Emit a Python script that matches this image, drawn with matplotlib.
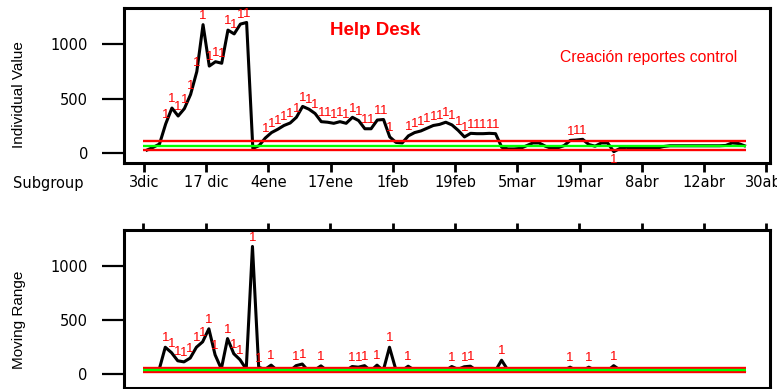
import matplotlib
matplotlib.use("Agg")
import matplotlib.pyplot as plt
import matplotlib.transforms as mtransforms
import numpy as np

# Individual values per subgroup (Help Desk, report creation)
INDIVIDUAL = [
    30, 55, 85, 270, 415, 342, 410, 540, 750, 1180,
    800, 840, 826, 1130, 1095, 1185, 1200, 45, 70, 140,
    190, 220, 255, 278, 330, 430, 405, 365, 290, 285,
    275, 290, 275, 330, 300, 225, 225, 305, 310, 150,
    100, 95, 160, 190, 205, 230, 255, 265, 285, 260,
    210, 150, 183, 180, 180, 183, 180, 55, 40, 40,
    45, 70, 95, 95, 65, 45, 50, 70, 118, 122,
    128, 80, 65, 95, 95, 15, 45, 55, 45, 45,
    45, 45, 48, 62, 69, 69, 69, 69, 69, 69,
    69, 69, 69, 72, 95, 90, 69,
]

# Moving range between consecutive subgroups
MOVING_RANGE = [
    np.nan, 35, 40, 250, 200, 125, 115, 150, 250, 300,
    420, 180, 50, 330, 190, 135, 48, 1180, 65, 45,
    85, 35, 38, 30, 80, 95, 30, 40, 78, 32,
    35, 36, 34, 72, 66, 80, 32, 85, 34, 250,
    48, 34, 75, 38, 36, 38, 36, 34, 36, 72,
    46, 70, 75, 33, 32, 32, 32, 130, 40, 32,
    34, 38, 38, 32, 40, 36, 34, 38, 66, 34,
    34, 66, 36, 40, 32, 80, 40, 34, 34, 32,
    32, 32, 32, 34, 34, 32, 32, 32, 32, 32,
    32, 32, 32, 32, 38, 32, 36,
]

# (LCL, CL, UCL)
I_LIMITS = (27, 69, 111)
MR_LIMITS = (17, 40, 60)

SUBGROUP_LABELS = ["3dic", "17 dic", "4ene", "17ene", "1feb", "19feb",
                   "5mar", "19mar", "8abr", "12abr", "30abr"]
Y_TICKS = [0, 500, 1000]

RED = "#ff0000"
GREEN = "#00ff00"
SANS = "Liberation Sans"
TICKFONT = "DejaVu Sans"


def draw_limits(ax, limits, x0, x1, lw):
    lcl, cl, ucl = limits
    ax.hlines([ucl, lcl], x0, x1, colors=RED, linewidth=lw, zorder=3)
    ax.hlines(cl, x0, x1, colors=GREEN, linewidth=lw, zorder=3)


def flag_points(ax, x, y, ucl, lcl=None):
    for xi, yi in zip(x, y):
        if np.isnan(yi):
            continue
        if yi > ucl:
            ax.annotate("1", (xi, yi), xytext=(0, 2), textcoords="offset points",
                        ha="center", va="bottom", color=RED, fontsize=9.5,
                        family=SANS, zorder=4)
        elif lcl is not None and yi < lcl:
            ax.annotate("1", (xi, yi), xytext=(0, -2), textcoords="offset points",
                        ha="center", va="top", color=RED, fontsize=9.5,
                        family=SANS, zorder=4)


def style_box(ax):
    for sp in ax.spines.values():
        sp.set_linewidth(2.2)
        sp.set_color("black")


def main():
    fig = plt.figure(figsize=(7.77, 3.89), dpi=100)
    x = np.arange(len(INDIVIDUAL))
    ticks = np.arange(len(SUBGROUP_LABELS)) * 10 - 0.5
    xlim = (-3.7, 100.1)
    line_x0, line_x1 = -0.65, 96.2

    # --- Individual values chart ---
    ax1 = fig.add_axes([0.1596, 0.5810, 0.8314, 0.3985])
    ax1.plot(x, INDIVIDUAL, color="black", linewidth=2.2, zorder=2,
             solid_joinstyle="round")
    draw_limits(ax1, I_LIMITS, line_x0, line_x1, 1.7)
    flag_points(ax1, x, INDIVIDUAL, I_LIMITS[2], I_LIMITS[0])
    ax1.set_xlim(*xlim)
    ax1.set_ylim(-89, 1333)
    ax1.set_yticks(Y_TICKS)
    ax1.set_xticks(ticks)
    ax1.set_xticklabels(SUBGROUP_LABELS, family=TICKFONT, fontsize=10.5)
    shift = mtransforms.ScaledTranslation(7 / 100, 0, fig.dpi_scale_trans)
    for lab in ax1.get_xticklabels():
        lab.set_transform(lab.get_transform() + shift)
    ax1.tick_params(axis="y", direction="out", length=16, width=1.6, pad=10,
                    labelsize=10.5, labelfontfamily=TICKFONT)
    ax1.tick_params(axis="x", direction="out", length=6.5, width=2, pad=2)
    style_box(ax1)

    # --- Moving range chart ---
    ax2 = fig.add_axes([0.1590, 0.0026, 0.8320, 0.4062])
    ax2.plot(x, MOVING_RANGE, color="black", linewidth=2.2, zorder=2,
             solid_joinstyle="round")
    draw_limits(ax2, MR_LIMITS, line_x0, line_x1, 1.7)
    flag_points(ax2, x, MOVING_RANGE, MR_LIMITS[2])
    ax2.set_xlim(*xlim)
    ax2.set_ylim(-126, 1332)
    ax2.set_yticks(Y_TICKS)
    ax2.set_xticks(ticks)
    ax2.tick_params(axis="x", top=True, bottom=False, labeltop=False,
                    labelbottom=False, direction="out", length=5, width=2)
    ax2.tick_params(axis="y", direction="out", length=16, width=1.6, pad=10,
                    labelsize=10.5, labelfontfamily=TICKFONT)
    style_box(ax2)

    # --- Labels and titles ---
    fig.text(19 / 777, 1 - 95 / 389, "Individual Value", rotation=90,
             ha="center", va="center", fontsize=11, family=SANS)
    fig.text(19 / 777, 1 - 319.5 / 389, "Moving Range", rotation=90,
             ha="center", va="center", fontsize=11, family=SANS)
    fig.text(13 / 777, 1 - 187.7 / 389, "Subgroup", ha="left", va="baseline",
             fontsize=10.5, family=TICKFONT)
    fig.text(375.5 / 777, 1 - 35 / 389, "Help Desk", ha="center", va="baseline",
             fontsize=13.5, fontweight="bold", color=RED, family=SANS)
    fig.text(648.5 / 777, 1 - 61.7 / 389, "Creación reportes control",
             ha="center", va="baseline", fontsize=11.3, color=RED, family=SANS)

    fig.savefig("out.png", dpi=100)
    plt.close(fig)


if __name__ == "__main__":
    main()
